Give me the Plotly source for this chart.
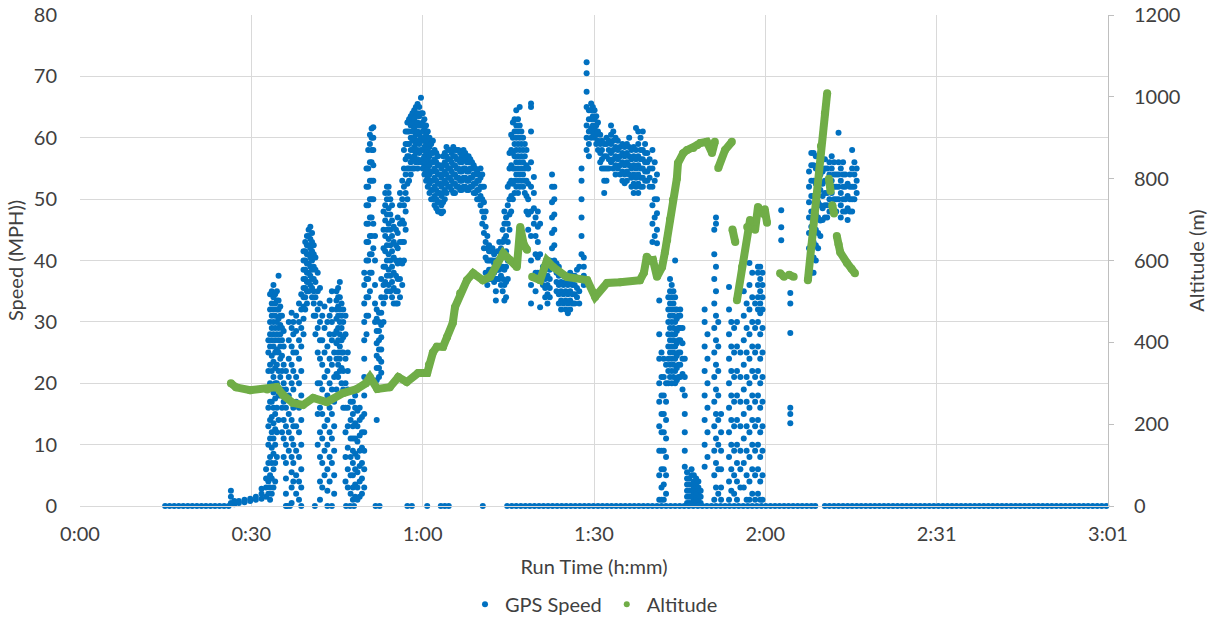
import plotly.graph_objects as go

# ---------------- data (minutes of run time, mph, metres) ----------------
tick_minutes = [0, 30.2, 60.4, 90.6, 120.8, 151.0, 181.2]
tick_labels = ["0:00", "0:30", "1:00", "1:30", "2:00", "2:31", "3:01"]

# GPS speed samples sitting on zero
zero_speed_times = [
    15.0, 15.8, 16.6, 17.4, 18.2, 19.0, 19.8, 20.6, 21.4, 22.2, 23.0, 23.8, 24.6, 25.4, 26.2,
    36.5, 37.0, 41.4, 44.4, 46.9, 47.6, 48.3, 52.1, 52.8, 57.7, 58.5, 61.2, 63.6, 64.3, 65.0, 71.0,
    75.3, 76.1, 76.9, 77.7, 78.5, 79.3, 80.1, 80.9, 81.7, 82.5, 83.3, 84.1, 84.9, 85.7, 86.5,
    87.3, 88.1, 88.9, 89.7, 90.5, 91.3, 92.1, 92.9, 93.7, 94.5, 95.3, 96.1, 96.9, 97.7, 98.5,
    99.3, 100.1, 100.9, 101.7, 102.5, 103.3, 104.1, 104.9, 105.7, 106.5, 107.3, 108.1, 108.9,
    109.7, 110.5, 111.3, 112.1, 112.9, 113.7, 114.5, 115.3, 116.1, 116.9, 117.7, 118.5, 119.3,
    120.1, 120.9, 121.7, 122.5, 123.3, 124.1, 124.9, 125.7, 126.5, 127.3, 128.1, 128.9, 129.6,
    131.3, 132.1, 132.9, 133.7, 134.5, 135.3, 136.1, 136.9, 137.7, 138.5, 139.3, 140.1, 140.9,
    141.7, 142.5, 143.3, 144.1, 144.9, 145.7, 146.5, 147.3, 148.1, 148.9, 149.7, 150.5, 151.3,
    152.1, 152.9, 153.7, 154.5, 155.3, 156.1, 156.9, 157.7, 158.5, 159.3, 160.1, 160.9, 161.7,
    162.5, 163.3, 164.1, 164.9, 165.7, 166.5, 167.3, 168.1, 168.9, 169.7, 170.5, 171.3, 172.1,
    172.9, 173.7, 174.5, 175.3, 176.1, 176.9, 177.7, 178.5, 179.3, 180.1, 180.9,
]

# GPS speed samples grouped by time column: time (min) and the speeds (mph) seen there
speed_col_times = [
    26.6, 27.2, 28.0, 29.0, 30.0, 31.0, 32.0, 32.8, 33.2, 33.5, 33.8, 34.1, 34.4, 34.7, 35.0,
    35.3, 35.6, 35.9, 36.3, 36.8, 37.3, 37.6, 38.1, 38.6, 39.0, 39.4, 39.7, 40.0, 40.3, 40.6,
    40.9, 41.2, 41.5, 41.9, 42.3, 42.7, 43.1, 43.6, 44.0, 44.4, 44.8, 45.2, 45.5, 45.8, 46.1,
    46.4, 46.8, 47.2, 47.7, 48.1, 48.5, 48.9, 49.3, 49.7, 50.1, 50.5, 50.8, 51.1, 51.4, 51.7,
    52.0, 52.3, 52.7, 53.1, 53.5, 53.8, 54.1, 54.4, 54.7, 55.0, 55.3, 55.7, 56.0, 56.4, 56.8,
    57.1, 57.4, 57.7, 58.0, 58.3, 58.6, 58.9, 59.2, 59.5, 59.8, 60.1, 60.4, 60.7, 61.0, 61.3,
    61.6, 61.9, 62.2, 62.5, 62.8, 63.1, 63.4, 63.7, 64.0, 64.3, 64.6, 64.9, 65.2, 65.5, 65.8,
    66.1, 66.4, 66.7, 67.0, 67.3, 67.6, 67.9, 68.2, 68.5, 68.8, 69.1, 69.4, 69.7, 70.0, 70.3,
    70.6, 70.9, 71.2, 71.5, 71.8, 72.1, 72.4, 72.7, 73.0, 73.3, 73.6, 73.9, 74.2, 74.5, 74.8,
    75.1, 75.4, 75.7, 76.0, 76.3, 76.6, 76.9, 77.2, 77.5, 77.8, 78.1, 78.4, 78.7, 79.0, 79.5,
    80.0, 80.3, 80.7, 81.1, 81.6, 82.0, 82.4, 82.8, 83.2, 83.6, 84.0, 84.4, 84.8, 85.2, 85.6,
    86.0, 86.4, 86.8, 87.2, 87.6, 88.0, 88.4, 88.8, 89.3, 89.7, 90.1, 90.4, 90.7, 91.0, 91.3,
    91.7, 92.0, 92.4, 92.8, 93.2, 93.6, 94.0, 94.4, 94.8, 95.2, 95.6, 96.0, 96.4, 96.8, 97.2,
    97.6, 98.0, 98.4, 98.8, 99.2, 99.6, 100.0, 100.4, 100.9, 101.3, 101.7, 102.1, 102.5, 102.9,
    103.3, 103.7, 104.0, 104.3, 104.6, 104.9, 105.2, 105.5, 105.8, 106.2, 106.6, 107.0, 107.4,
    107.8, 108.2, 108.6, 109.0, 109.4, 110.1, 110.6, 111.8, 112.1, 112.5, 113.0, 114.4, 114.8,
    115.3, 115.8, 116.4, 117.0, 117.5, 118.0, 118.5, 119.0, 119.5, 119.9, 120.3, 123.6, 125.2,
    128.5, 128.9, 129.3, 129.7, 130.1, 130.5, 130.9, 131.3, 131.7, 132.1, 132.5, 132.9, 133.3,
    133.7, 134.1, 134.5, 134.9, 135.3, 135.7, 136.1, 136.5, 136.9,
]
speed_col_values = [
    [0.5, 1.5, 2.5], [0.3, 0.8], [0.5, 0.8], [0.6, 1.0], [0.8, 1.2], [1.0, 1.5], [1.2, 2.0, 2.8],
    [1.5, 3, 4.5, 6],
    [2, 4, 7, 10, 13, 16, 19, 22, 25, 27],
    [1, 3, 5, 8, 11, 14, 17, 20, 23, 26, 28, 30, 32, 34.5],
    [2, 4.5, 7, 9.5, 12, 14.5, 17, 19.5, 22, 24.5, 27, 29, 31, 33, 35],
    [3, 6, 8.5, 11, 13.5, 16, 18.5, 21, 23.5, 26, 28, 30, 32, 34, 36],
    [4, 7, 10, 12.5, 15, 17.5, 20, 22.5, 25, 27, 29, 31, 33, 34.5],
    [8, 12, 16, 20, 23, 25.5, 28, 30, 32, 33.5, 35],
    [14, 18, 22, 25, 27, 29, 30.5, 32, 33.5, 37.5],
    [18, 21, 24, 26, 28, 29.5, 31, 32.5],
    [12, 16, 19, 22, 24.5, 27, 29, 31],
    [8, 11, 14, 17, 20, 23, 26, 28.5],
    [0, 2, 4.5, 7, 10, 13, 16, 19, 22],
    [9, 12, 15, 18, 21, 24, 27, 30],
    [0.5, 3, 5.5, 8, 11, 14, 17, 20, 23, 26, 29, 31.5],
    [4, 7, 10, 13, 16, 19, 22, 25, 28, 30],
    [2, 5, 9, 13, 17, 21, 25, 28.5, 31],
    [1, 4, 8, 12, 16, 20, 24, 27, 30, 33],
    [0, 3, 6, 10, 14, 18, 22, 26, 29, 32, 34.5],
    [28, 30.5, 32.5, 34, 35.5, 37, 38.5, 40, 41.5],
    [32, 34, 35.5, 37, 38.5, 40, 41.5, 43],
    [33, 35, 36.5, 38, 39.5, 41, 42.5, 44],
    [35, 36.5, 38, 39.5, 41, 42.5, 44, 45],
    [36, 37.5, 39, 40.5, 42, 43.5, 45.5],
    [34, 35.5, 37, 38.5, 40, 41.5, 43, 44.5],
    [31, 33, 35, 37, 39, 41, 42.5],
    [28, 31, 34, 36.5, 38.5, 40.5],
    [10, 15, 20, 25, 29, 32, 35, 38],
    [1, 4, 8, 12, 16, 20, 24, 27, 30, 33, 35.5],
    [3, 7, 11, 15, 19, 23, 27, 31],
    [5, 9, 13, 17, 21, 25, 29, 32.5],
    [0, 2.5, 6, 10, 14, 18, 22, 26, 30],
    [4, 8, 12, 16, 20, 24, 28, 31, 33.5],
    [7, 11, 15, 19, 23, 27, 30, 32, 35],
    [2, 5, 9, 13, 17, 21, 25, 28],
    [19, 21.5, 24, 26.5, 28.5, 30.5, 32, 33.5, 35],
    [21, 23, 25, 27, 29, 31, 32.5, 34, 35.5],
    [22, 24, 26, 28, 30, 32, 34, 36.5],
    [20, 22.5, 25, 27, 29, 31, 33],
    [16, 19, 22, 25, 27.5, 30, 32],
    [4, 8, 12, 16, 20, 24, 28, 31],
    [3, 6, 9.5, 13, 16, 19, 22, 25],
    [2, 5, 8, 11, 14, 17],
    [1, 3, 5, 7, 9, 11, 13, 15, 17],
    [1.5, 3.5, 6, 8.5, 11, 13.5, 16, 18],
    [1, 3, 5.5, 8, 10.5, 13, 15.5],
    [1.5, 4, 6.5, 9, 11.5, 14, 16],
    [2, 4.5, 7, 9.5, 12, 14.5],
    [3, 6, 9, 12, 15, 18, 21, 24, 27, 30, 33, 36, 38],
    [28, 31, 34, 37, 40, 43, 46, 49, 52, 55],
    [31, 34, 37, 40, 43, 46, 49, 52, 55, 58],
    [35, 38, 41, 44, 47, 50, 53, 56, 59, 60.5],
    [38, 41, 44, 47, 50, 53, 56, 58, 60, 61.5],
    [42, 46, 50, 53, 55.5, 58, 60, 61.7],
    [30, 33, 36, 40, 44],
    [14, 20.5, 22.5, 24.5, 26.5, 28.5, 30.5, 32],
    [21, 22.5, 24, 25.5, 27, 28.5, 30, 31.5],
    [21.7, 23.5, 25.5, 27.5, 29.5, 31.5, 34, 37],
    [30, 33, 36, 39, 42, 45, 48],
    [34, 36.5, 39, 41.5, 44, 46.5, 49, 51],
    [35, 37.5, 40, 42.5, 45, 47.5, 50, 52],
    [36, 38.5, 41, 43.5, 46, 48.5, 51, 52],
    [35, 37.5, 40, 42.5, 45, 47.5, 50],
    [34, 36.5, 39, 41.5, 44, 46.5, 49],
    [33, 35.5, 38, 40.5, 43, 45.5],
    [33, 35, 37.5, 40, 42.5, 45],
    [33, 35, 37, 39.5, 42, 44.5, 47],
    [34, 37, 40, 43, 46, 49, 51],
    [36, 39.5, 43, 46.5, 50, 53],
    [40, 43, 46, 49, 52, 55, 58],
    [45, 48, 51, 54, 56.5, 59, 61],
    [50, 52.5, 55, 57, 59, 61, 62.5],
    [53, 55, 57, 59, 61, 63],
    [54, 56, 58, 60, 62, 63.5],
    [55, 56.5, 58, 59.5, 61, 62.5, 64],
    [55, 57, 58.5, 60, 61.5, 63, 64.5],
    [56, 57.5, 59, 60.5, 62, 63.5, 65],
    [55, 56.5, 58, 59.5, 61, 62.5, 64, 65.5],
    [56, 57.5, 59, 60.5, 62, 63.5, 65],
    [56, 58, 60, 62, 64, 66.5],
    [55, 56.5, 58, 59.5, 61, 62.5, 64],
    [54, 55.5, 57, 58.5, 60, 61.5, 63],
    [53, 54.5, 56, 57.5, 59, 60.5, 62],
    [52, 53.5, 55, 56.5, 58, 59.5, 61],
    [51, 52.5, 54, 55.5, 57, 58.5, 60],
    [50, 51.5, 53, 54.5, 56, 57.5, 59],
    [50, 51.5, 53, 54.5, 56, 57.5, 59.5],
    [49, 50.5, 52, 53.5, 55, 56.5, 58],
    [48.5, 50, 51.5, 53, 54.5, 56, 57.5],
    [48, 49.5, 51, 52.5, 54, 55.5, 57],
    [48, 49.5, 51, 52.5, 54, 55.5],
    [47.7, 49, 50.5, 52, 53.5, 55],
    [48, 49.5, 51, 52.5, 54, 55.5, 57],
    [50, 51.5, 53, 54.5, 56, 57.5],
    [51, 52.5, 54, 55.5, 57, 58.5],
    [52, 53.5, 55, 56.5, 58],
    [52, 53.5, 55, 56.5, 58],
    [51.5, 53, 54.5, 56, 57.5],
    [51, 52.5, 54, 55.5, 57, 58.5],
    [51, 52.5, 54, 55.5, 57, 58],
    [52, 53.5, 55, 56.5, 58],
    [52, 53.5, 55, 56.5, 58],
    [51.5, 53, 54.5, 56, 57.5],
    [51.5, 53, 54.5, 56, 57],
    [52, 53.5, 55, 56.5, 58],
    [52, 53.5, 55, 56.5, 57.5],
    [51.5, 53, 54.5, 56, 57],
    [51.5, 53, 54.5, 56, 57],
    [52, 53.5, 55, 56.5],
    [52, 53.5, 55, 56],
    [51, 52.5, 54, 55.5],
    [51, 52.5, 54, 55],
    [50, 51.5, 53, 54.5],
    [50, 51.5, 53, 54],
    [49, 50.5, 52, 53.5, 55],
    [46, 48, 50, 52, 54],
    [42, 44.5, 47, 49.5, 52],
    [38, 40.5, 43, 45.5, 48],
    [36, 38, 40, 42, 44],
    [37, 38.5, 40, 41.5, 42.5],
    [37, 38.5, 40, 41.5],
    [37, 38.5, 40, 41.5, 42],
    [36.5, 38, 39.5, 41],
    [33.5, 35, 37, 38.5, 40],
    [37, 38.5, 40, 41.5],
    [37, 38.5, 40, 41.5, 43],
    [36, 37.5, 39, 40.5, 42],
    [35, 37, 39, 41, 43, 45],
    [33.5, 36, 38.5, 41, 43.5, 46, 48],
    [34, 36.5, 39, 41.5, 44, 47],
    [37, 40, 43, 46, 49, 52],
    [45, 47.5, 50, 52.5, 55, 57.5],
    [48, 50.5, 53, 55.5, 58, 60.5],
    [50, 52.5, 55, 57.5, 60, 62.5],
    [51, 53, 55, 57, 59, 61, 63],
    [52, 54, 56, 58, 60, 62, 64.5],
    [51, 53, 55, 57, 59, 61, 63],
    [52, 54, 56, 58, 60, 62, 65],
    [53, 55, 57, 59, 61],
    [52, 54, 56, 58, 60],
    [51, 53, 55, 57, 59],
    [48, 50.5, 53, 55.5, 58],
    [45, 47.5, 50, 52.5, 55],
    [33, 36, 40, 44, 48, 52, 56, 61, 65, 65.6],
    [46, 48.5, 51, 53.6],
    [35, 38, 41, 44, 47],
    [38, 40.5, 43, 45.5, 48],
    [32.4, 41, 46],
    [36, 37.5, 39],
    [34, 35.5, 37, 38.5],
    [33, 34.5, 36, 37.5, 39, 40],
    [34, 35.5, 37, 38.5, 40],
    [39.5, 42, 44.5, 47, 49.5, 52, 54],
    [40, 42.5, 45, 47.5, 50, 52],
    [35, 36.5, 38, 39.5],
    [33, 34.5, 36, 37.5, 39],
    [32, 33.5, 35, 36.5, 38],
    [33, 34.5, 36, 37.5],
    [32, 33.5, 35, 36.5],
    [31.4, 33, 34.5, 36, 37.5],
    [32, 33.5, 35, 36.5, 38],
    [33, 34.5, 36, 37.5],
    [33, 34.5, 36, 37.5],
    [34, 35.5, 37, 38.5],
    [33, 35, 37, 39],
    [41, 44, 47, 50, 53, 55],
    [36, 37.5, 39, 40.5],
    [58, 60, 62, 65, 67.5, 70.5, 72.3],
    [57, 59, 61, 63, 64.5],
    [60, 61.5, 63, 64.5, 65.6],
    [60.8, 62, 63.5, 65],
    [60, 61.5, 63, 64.5],
    [59, 60.5, 62, 63.5],
    [58, 59.5, 61, 62.5],
    [56, 57.5, 59, 60.5],
    [55, 56.5, 58, 59.5],
    [51, 53, 55, 57, 59],
    [53, 55, 57, 59, 60],
    [55, 56.5, 58, 59.5],
    [56, 57.5, 59, 60.5, 62],
    [55, 56.5, 58, 59.5, 61],
    [54, 55.5, 57, 58.5, 60],
    [55, 56.5, 58, 59.5],
    [54, 55.5, 57, 58.5],
    [53, 54.5, 56, 57.5, 59],
    [52.6, 54, 55.5, 57, 58.5],
    [53, 54.5, 56, 57.5, 59],
    [54, 55.5, 57, 58.5, 60],
    [52, 53.5, 55, 56.5, 58],
    [51, 52.5, 54, 55.5, 57, 58.5],
    [52, 53.5, 55, 56.5, 58, 61.6],
    [51, 52.5, 54, 55.5, 57, 59, 61],
    [52, 53.5, 55, 56.5, 58, 60],
    [52, 53.5, 55, 56.5, 58, 61],
    [53, 54.5, 56, 57.5, 59],
    [53, 54.5, 56, 57.5],
    [52, 53.5, 55, 56.5],
    [43, 46, 49, 52, 55, 58],
    [44, 47, 50, 53, 56],
    [42.8, 45, 47.7, 50, 54],
    [1, 5, 9, 13, 17, 20, 24, 28, 33.5],
    [1, 3, 6, 9, 12, 15, 18, 21, 25],
    [1, 3.5, 6, 9, 12, 15, 18, 21, 24],
    [2, 5, 8, 11, 14, 17, 20, 23],
    [20, 22, 24, 26, 28, 30, 32, 34],
    [21, 23, 25, 27, 29, 31, 33, 35, 37],
    [20, 22, 24, 26, 28, 30, 32, 34, 36],
    [21, 23, 25, 27, 29, 31, 33, 35],
    [20, 22, 24, 26, 28, 30, 32, 34, 40],
    [20.5, 22.5, 24.5, 26.5, 28.5, 30.5, 32],
    [21, 23, 25, 27, 29, 31],
    [21, 23, 25, 27, 29, 31, 32],
    [19, 21.5, 24, 26.5, 29],
    [6.4, 9, 12, 15, 18, 21, 24],
    [0.5, 1.5, 2.5, 3.5, 4.5, 5.5],
    [0.5, 1.5, 2.5, 3.5, 4.5],
    [0.5, 1.5, 2.5, 3.5, 5, 6],
    [1, 2, 3, 4, 5],
    [0.5, 1.5, 2.5, 3.5, 4.5],
    [1, 2, 3, 4],
    [0.5, 1.5, 2.5],
    [6.4, 10, 14, 18, 22, 26, 30, 32],
    [8, 12, 16, 20, 24, 28],
    [1, 5, 9, 13, 17, 21, 25, 29, 33, 37, 41, 45],
    [3, 7, 11, 15, 19, 23, 27, 31, 35, 39, 46, 47],
    [2, 6, 10, 14, 18, 22, 26, 30],
    [1, 3, 6, 9, 12, 15],
    [1, 4, 8, 12, 16, 20, 24, 28, 32, 35.7],
    [2.5, 6, 10, 14, 18, 22, 26, 30],
    [2, 5, 9, 13, 17, 21, 25, 29],
    [1, 4, 7, 10, 14, 18, 22, 26, 30],
    [3, 6, 9, 13, 17, 21, 25],
    [3, 7, 11, 15, 19, 23, 27, 31, 35],
    [1, 5, 9, 13, 17, 21, 25, 29, 33],
    [1, 4, 8, 12, 16, 20, 24, 28, 32, 36, 39.6],
    [2, 6, 10, 14, 18, 22, 26, 30, 34, 38],
    [1, 5, 9, 13, 17, 21, 25, 29, 33],
    [2, 6, 10, 14, 18, 22, 26, 30, 32, 34, 36, 38, 39],
    [1, 4, 8, 12, 16, 20, 24, 28, 31.4, 33, 35, 37, 39],
    [1, 5, 9, 13, 17, 21, 25, 29, 32, 34, 36, 38],
    [43.3, 45.4, 48.2],
    [13.5, 15, 16, 28.2, 33, 34.7],
    [37, 39.5, 42, 44.5, 47, 49.5, 52, 54.5],
    [38, 40.5, 43, 45.5, 48, 50.5, 53, 55.5, 57.5],
    [38, 40.5, 43, 45.5, 48, 50.5, 53, 55.5, 57.5],
    [40, 42.5, 45, 47.5, 50, 52.5, 55, 57],
    [42, 44.5, 47, 49.5, 52, 54.5, 57],
    [44, 46.5, 49, 51.5, 54, 56.5],
    [46.6, 48.5, 50.5, 52.5, 54.5, 56.5],
    [47, 49, 51, 53, 55, 56.5],
    [47, 49, 51, 53, 55],
    [48, 50, 52, 54, 56],
    [49, 51, 53, 55, 57],
    [48, 50, 52, 54, 56],
    [48, 50, 52, 54],
    [50, 52, 54, 56, 60.8],
    [47, 49, 51, 53, 55],
    [48, 50, 52, 54, 56],
    [48, 50, 52, 54],
    [46.6, 48.5, 50.5, 52.5],
    [48, 50, 52, 54],
    [48, 50, 52, 55, 58],
    [50, 52, 54, 56],
    [51, 53, 55],
]

# Altitude (m); None marks a gap in the recorded track
alt_times = [
    26.6, 27.5, 30.0, 33.0, 34.7, 35.8, 37.5, 39.3, 41.1, 43.5, 46.4, 48.8, 50.4, 51.1, 52.4,
    54.6, 56.1, 57.6, 59.6, 61.2, 61.5, 62.2, 62.9, 64.0, 64.7, 65.7, 66.1, 67.0, 68.2, 69.3,
    71.0, 72.3, 73.5, 74.6, 75.8, 77.0, 77.6, 78.2, 78.8, None,
    79.7, 81.1, 82.3, 83.4, 85.8, 89.4, 90.8, 92.9, 95.2, 98.7, 99.4, 99.9, 100.5, 101.0,
    101.7, 102.6, 103.1, 103.5, 104.0, 104.5, 105.2, 105.4, 106.3, 107.0, 108.1, 108.8, 109.3,
    110.5, 111.4, 111.9, None,
    112.5, 113.7, 114.9, None,
    115.0, 115.5, None,
    115.8, 116.7, 117.6, 118.1, 119.0, 119.5, 120.4, 120.7, 121.1, None,
    123.4, 124.1, None,
    125.0, 125.8, None,
    128.3, 129.0, 129.8, 130.6, 131.3, 131.7, None,
    132.0, 132.3, None,
    132.6, 132.9, None,
    133.4, 133.7, 134.0, 135.2, 136.0, 136.6,
]
alt_values = [
    300, 290, 283, 285, 291, 271, 252, 247, 264, 254, 276, 286, 300, 315, 286,
    290, 315, 303, 325, 325, 345, 375, 389, 389, 413, 447, 486, 520, 552, 569,
    552, 560, 594, 618, 601, 584, 682, 640, 626, None,
    560, 552, 600, 584, 560, 552, 511, 545, 547, 552, 570, 609, 600, 601,
    560, 584, 620, 650, 700, 748, 800, 838, 862, 870, 875, 882, 887,
    890, 863, 890, None,
    826, 870, 890, None,
    676, 645, None,
    503, 584, 682, 699, 675, 731, 716, 725, 692, None,
    569, 560, None,
    565, 560, None,
    552, 640, 760, 880, 960, 1009, None,
    800, 770, None,
    735, 715, None,
    660, 640, 620, 594, 580, 569,
]

# ---------------- build figure ----------------
BLUE = "#0070C0"
GREEN = "#70AD47"
FONT = "Lato, 'Open Sans', sans-serif"
TXT = "#404040"
GRID = "#D9D9D9"

sp_x, sp_y = [], []
for t, vals in zip(speed_col_times, speed_col_values):
    for v in vals:
        sp_x.append(t)
        sp_y.append(v)
sp_x += zero_speed_times
sp_y += [0] * len(zero_speed_times)

fig = go.Figure()
fig.add_trace(go.Scatter(
    x=sp_x, y=sp_y, mode="markers", name="GPS Speed",
    marker=dict(color=BLUE, size=6, line=dict(width=0)),
    yaxis="y", cliponaxis=False,
))
fig.add_trace(go.Scatter(
    x=alt_times, y=alt_values, mode="lines+markers", name="Altitude",
    line=dict(color=GREEN, width=8), marker=dict(color=GREEN, size=8),
    connectgaps=False, yaxis="y2", showlegend=False,
))
fig.add_trace(go.Scatter(
    x=[None], y=[None], mode="markers", name="Altitude",
    marker=dict(color=GREEN, size=6), yaxis="y2",
))

fig.update_layout(
    width=1218, height=622,
    margin=dict(l=80, r=110, t=15, b=116, autoexpand=False),
    paper_bgcolor="white", plot_bgcolor="white",
    font=dict(family=FONT, color=TXT, size=20),
    showlegend=True,
    legend=dict(orientation="h", x=0.5, xanchor="center", y=-0.2, yanchor="middle",
                font=dict(size=20, color=TXT), itemsizing="trace", itemwidth=30,
                tracegroupgap=0),
    xaxis=dict(
        range=[0, 181.2], tickvals=tick_minutes, ticktext=tick_labels,
        showgrid=True, gridcolor=GRID, gridwidth=1,
        showline=True, linecolor=GRID, linewidth=1,
        zeroline=False, ticks="", ticklabelstandoff=10, automargin=False,
        ticklabeloverflow="allow", tickfont=dict(size=20),
        title=dict(text="Run Time (h:mm)", font=dict(size=20, color=TXT), standoff=15),
    ),
    yaxis=dict(
        range=[0, 80], tickvals=[0, 10, 20, 30, 40, 50, 60, 70, 80],
        showgrid=True, gridcolor=GRID, gridwidth=1, zeroline=False,
        showline=False, ticks="", ticklabelstandoff=22, automargin=False,
        ticklabeloverflow="allow", tickfont=dict(size=20),
        title=dict(text="Speed (MPH))", font=dict(size=20, color=TXT), standoff=4),
    ),
    yaxis2=dict(
        range=[0, 1200], tickvals=[0, 200, 400, 600, 800, 1000, 1200],
        overlaying="y", side="right", showgrid=False, zeroline=False,
        showline=True, linecolor="#BFBFBF", linewidth=1,
        ticks="outside", ticklen=5, tickcolor="#BFBFBF",
        ticklabelstandoff=16, automargin=False,
        ticklabeloverflow="allow", tickfont=dict(size=20),
        title=dict(text="Altitude (m)", font=dict(size=20, color=TXT), standoff=10),
    ),
)

# remove the page's default 8px body margin so the figure fills the window exactly
fig.write_html("out.html", config={"displayModeBar": False},
               post_script="document.body.style.margin='0';")
